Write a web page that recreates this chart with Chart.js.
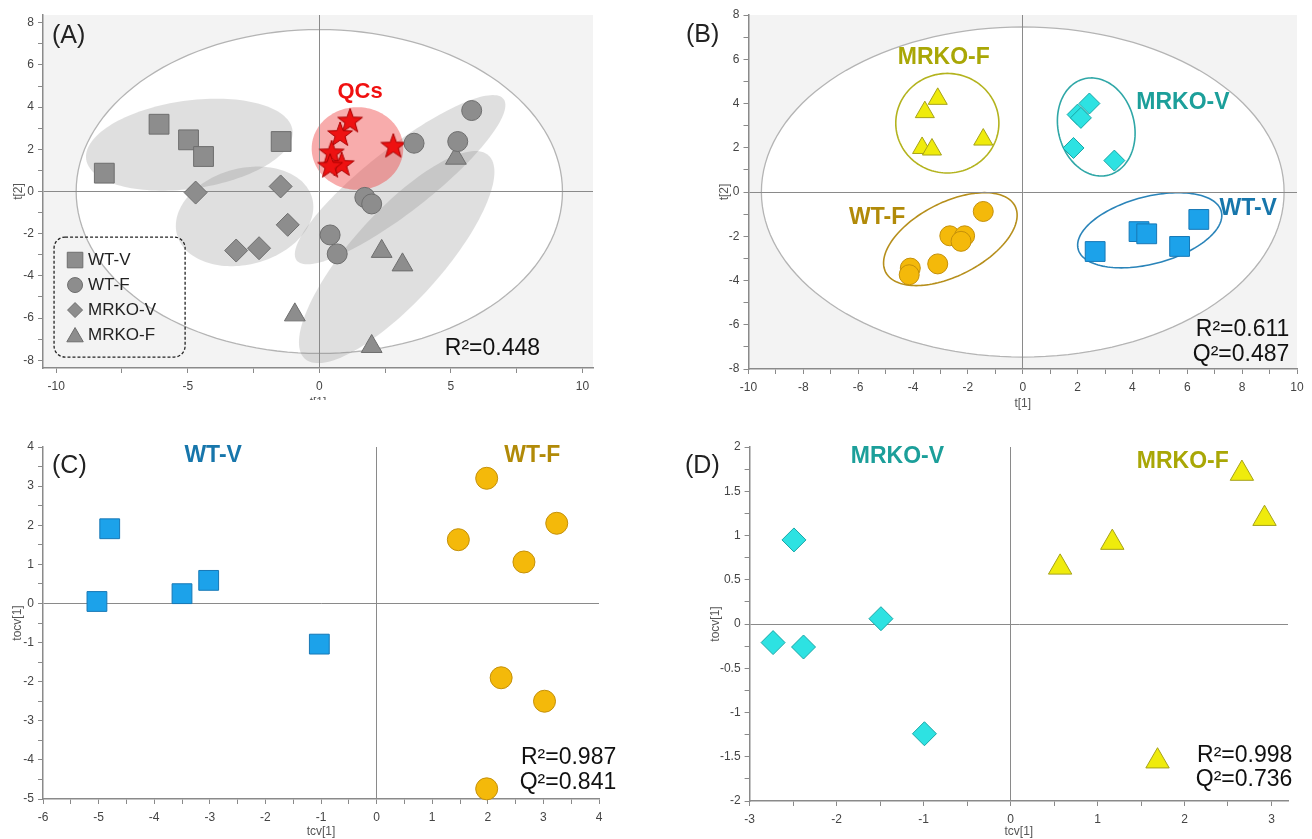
<!DOCTYPE html>
<html>
<head>
<meta charset="utf-8">
<script src="https://cdn.jsdelivr.net/npm/chart.js@4.4.1/dist/chart.umd.min.js"></script>
<style>
  body { margin: 0; background: #fff; width: 1312px; height: 839px; position: relative; overflow: hidden;
         font-family: "Liberation Sans", Arial, sans-serif; }
  .panel { position: absolute; overflow: hidden; }
  .panel canvas { position: absolute; left: 0; top: 0; }
  .tag { position: absolute; font-size: 25px; line-height: 25px; color: #222; }
</style>
</head>
<body>
<div class="panel" style="left:0;top:0;width:650px;height:400px"><canvas id="chartA" width="650" height="420"></canvas></div>
<div class="panel" style="left:650px;top:0;width:662px;height:420px"><canvas id="chartB" width="662" height="420"></canvas></div>
<div class="panel" style="left:0;top:430px;width:650px;height:409px"><canvas id="chartC" width="650" height="409"></canvas></div>
<div class="panel" style="left:650px;top:430px;width:662px;height:409px"><canvas id="chartD" width="662" height="409"></canvas></div>
<div class="tag" style="left:52px;top:22px">(A)</div>
<div class="tag" style="left:686px;top:21px">(B)</div>
<div class="tag" style="left:52px;top:452px">(C)</div>
<div class="tag" style="left:685px;top:452px">(D)</div>

<script>
/* ---- Panel A: PCA scores of all samples and QCs ---- */
const A_WTV_X = [-8.17, -6.09, -4.97, -4.40, -1.45];
const A_WTV_Y = [0.87, 3.19, 2.45, 1.66, 2.37];
const A_WTF_X = [5.79, 5.26, 3.60, 1.73, 1.99, 0.41, 0.68];
const A_WTF_Y = [3.84, 2.37, 2.29, -0.28, -0.59, -2.06, -2.96];
const A_MRKOV_X = [-4.70, -1.47, -1.20, -3.16, -2.29];
const A_MRKOV_Y = [-0.05, 0.24, -1.58, -2.80, -2.69];
const A_MRKOF_X = [5.19, 2.37, 3.16, -0.93, 1.99];
const A_MRKOF_Y = [1.58, -2.84, -3.48, -5.85, -7.35];
const A_QC_X = [1.17, 0.79, 2.81, 0.47, 0.85, 0.41];
const A_QC_Y = [3.37, 2.73, 2.18, 1.86, 1.31, 1.23];
const A_X_TICKS = [-10, -7.5, -5, -2.5, 0, 2.5, 5, 7.5, 10];
const A_X_LABELS = [-10, -5, 0, 5, 10];
const A_Y_TICKS = [-8, -7, -6, -5, -4, -3, -2, -1, 0, 1, 2, 3, 4, 5, 6, 7, 8];
const A_Y_LABELS = [-8, -6, -4, -2, 0, 2, 4, 6, 8];

/* ---- Panel B: PLS-DA scores ---- */
const B_WTV_X = [6.42, 4.24, 4.52, 5.72, 2.64];
const B_WTV_Y = [-1.24, -1.79, -1.89, -2.46, -2.69];
const B_WTF_X = [-1.44, -2.66, -2.12, -2.25, -3.10, -4.10, -4.14];
const B_WTF_Y = [-0.88, -1.98, -1.98, -2.23, -3.25, -3.44, -3.74];
const B_MRKOV_X = [2.43, 2.00, 2.12, 1.85, 3.34];
const B_MRKOV_Y = [4.00, 3.50, 3.35, 1.99, 1.42];
const B_MRKOF_X = [-3.10, -3.57, -3.67, -3.31, -1.44];
const B_MRKOF_Y = [4.21, 3.61, 1.99, 1.92, 2.37];
const B_X_TICKS = [-10, -9, -8, -7, -6, -5, -4, -3, -2, -1, 0, 1, 2, 3, 4, 5, 6, 7, 8, 9, 10];
const B_X_LABELS = [-10, -8, -6, -4, -2, 0, 2, 4, 6, 8, 10];
const B_Y_TICKS = [-8, -7, -6, -5, -4, -3, -2, -1, 0, 1, 2, 3, 4, 5, 6, 7, 8];
const B_Y_LABELS = [-8, -6, -4, -2, 0, 2, 4, 6, 8];

/* ---- Panel C: OPLS-DA WT-V vs WT-F ---- */
const C_WTV_X = [-4.80, -5.03, -3.50, -3.02, -1.03];
const C_WTV_Y = [1.91, 0.05, 0.25, 0.59, -1.04];
const C_WTF_X = [1.98, 3.24, 1.47, 2.65, 2.24, 3.02, 1.98];
const C_WTF_Y = [3.20, 2.05, 1.63, 1.06, -1.90, -2.50, -4.74];
const C_X_TICKS = [-6, -5.5, -5, -4.5, -4, -3.5, -3, -2.5, -2, -1.5, -1, -0.5, 0, 0.5, 1, 1.5, 2, 2.5, 3, 3.5, 4];
const C_X_LABELS = [-6, -5, -4, -3, -2, -1, 0, 1, 2, 3, 4];
const C_Y_TICKS = [-5, -4.5, -4, -3.5, -3, -2.5, -2, -1.5, -1, -0.5, 0, 0.5, 1, 1.5, 2, 2.5, 3, 3.5, 4];
const C_Y_LABELS = [-5, -4, -3, -2, -1, 0, 1, 2, 3, 4];

/* ---- Panel D: OPLS-DA MRKO-V vs MRKO-F ---- */
const D_MRKOV_X = [-2.49, -2.73, -2.38, -1.49, -0.99];
const D_MRKOV_Y = [0.95, -0.21, -0.26, 0.06, -1.24];
const D_MRKOF_X = [2.66, 2.92, 1.17, 0.57, 1.69];
const D_MRKOF_Y = [1.70, 1.19, 0.92, 0.64, -1.55];
const D_X_TICKS = [-3, -2.5, -2, -1.5, -1, -0.5, 0, 0.5, 1, 1.5, 2, 2.5, 3];
const D_X_LABELS = [-3, -2, -1, 0, 1, 2, 3];
const D_Y_TICKS = [-2, -1.75, -1.5, -1.25, -1, -0.75, -0.5, -0.25, 0, 0.25, 0.5, 0.75, 1, 1.25, 1.5, 1.75, 2];
const D_Y_LABELS = [-2, -1.5, -1, -0.5, 0, 0.5, 1, 1.5, 2];

/* Marker and label colours */
const COLORS = {
    wtv: "#1ca2ea", wtvEdge: "#1778b6", wtvText: "#1776ab",
    wtf: "#f4b90a", wtfEdge: "#c4900a", wtfText: "#b18a08",
    mrkov: "#2de2e2", mrkovEdge: "#19a6a6", mrkovText: "#1c9f9a",
    mrkof: "#efeb0c", mrkofEdge: "#a6a21a", mrkofText: "#a9a706",
    grey: "#8d8d8d", greyEdge: "#6e6e6e",
    axis: "#8a8a8a", tick: "#444",
};

Chart.defaults.font.family = '"Liberation Sans", Arial, sans-serif';
Chart.defaults.color = COLORS.tick;

/* Red QC star used as point style */
const starImg = (() => {
    const c = document.createElement("canvas");
    c.width = 28; c.height = 28;
    const g = c.getContext("2d");
    g.beginPath();
    for (let i = 0; i < 10; i++) {
        const r = i % 2 ? 5.3 : 13;
        const a = -Math.PI / 2 + i * Math.PI / 5;
        g.lineTo(14 + r * Math.cos(a), 15 + r * Math.sin(a));
    }
    g.closePath();
    g.fillStyle = "#ee1111";
    g.fill();
    g.strokeStyle = "#a80000";
    g.lineWidth = 1;
    g.stroke();
    return c;
})();

function series(xs, ys, style) {
    return Object.assign({
        data: xs.map((x, i) => ({ x, y: ys[i] })),
        borderWidth: 1,
        clip: false,
    }, style);
}

function axis(min, max, ticks, labels, title, size, titlePad) {
    return {
        min, max,
        afterBuildTicks: s => { s.ticks = ticks.map(v => ({ value: v })); },
        afterFit: s => { if (s.isHorizontal()) s.height = size; else s.width = size; },
        ticks: {
            autoSkip: false, maxRotation: 0,
            padding: ctx => (ctx.scale && ctx.scale.isHorizontal()) ? 6 : 4,
            font: { size: 12 }, color: COLORS.tick,
            callback: v => labels.includes(v) ? String(v) : "",
        },
        grid: {
            drawOnChartArea: true, tickLength: 5, tickColor: COLORS.axis,
            color: c => (c.tick && c.tick.value === 0) ? COLORS.axis : "rgba(0,0,0,0)",
        },
        border: { display: true, color: COLORS.axis, width: 1.5 },
        title: { display: true, text: title, color: "#555", font: { size: 12 }, padding: titlePad },
    };
}

function traceEllipse(chart, e) {
    const xs = chart.scales.x, ys = chart.scales.y, ctx = chart.ctx;
    ctx.beginPath();
    for (let i = 0; i <= 144; i++) {
        const t = i / 144 * Math.PI * 2;
        const vx = e.c[0] + e.u[0] * Math.cos(t) + e.v[0] * Math.sin(t);
        const vy = e.c[1] + e.u[1] * Math.cos(t) + e.v[1] * Math.sin(t);
        const px = xs.getPixelForValue(vx), py = ys.getPixelForValue(vy);
        if (i) ctx.lineTo(px, py); else ctx.moveTo(px, py);
    }
    ctx.closePath();
}

function drawMarker(ctx, shape, x, y, r) {
    ctx.beginPath();
    if (shape === "rect") {
        const s = r * Math.SQRT1_2;
        ctx.rect(x - s, y - s, 2 * s, 2 * s);
    } else if (shape === "circle") {
        ctx.arc(x, y, r, 0, Math.PI * 2);
    } else if (shape === "rectRot") {
        ctx.moveTo(x, y - r); ctx.lineTo(x + r, y); ctx.lineTo(x, y + r); ctx.lineTo(x - r, y);
        ctx.closePath();
    } else {
        ctx.moveTo(x, y - r); ctx.lineTo(x + r * 0.866, y + r * 0.5); ctx.lineTo(x - r * 0.866, y + r * 0.5);
        ctx.closePath();
    }
    ctx.fill();
    ctx.stroke();
}

/* Shaded plot area, confidence ellipses, in-plot labels and legend */
function decor(cfg) {
    return {
        id: "decor",
        beforeDraw(chart) {
            const { ctx, chartArea: a } = chart;
            ctx.save();
            if (cfg.shaded) {
                ctx.fillStyle = "#f3f3f3";
                ctx.fillRect(a.left, a.top, a.right - a.left, a.bottom - a.top);
            }
            ctx.beginPath();
            ctx.rect(a.left, a.top, a.right - a.left, a.bottom - a.top);
            ctx.clip();
            (cfg.ellipses || []).forEach(e => {
                traceEllipse(chart, e);
                if (e.fill) { ctx.fillStyle = e.fill; ctx.fill(); }
                if (e.stroke) { ctx.strokeStyle = e.stroke; ctx.lineWidth = e.lw || 1.6; ctx.stroke(); }
            });
            ctx.restore();
        },
        afterDatasetsDraw(chart) {
            const { ctx } = chart;
            const xs = chart.scales.x, ys = chart.scales.y;
            ctx.save();
            ctx.textBaseline = "middle";
            (cfg.texts || []).forEach(t => {
                ctx.font = t.font;
                ctx.fillStyle = t.color;
                ctx.textAlign = t.align || "center";
                ctx.fillText(t.text, xs.getPixelForValue(t.x), ys.getPixelForValue(t.y));
            });
            if (cfg.legend) {
                const L = cfg.legend;
                const x0 = xs.getPixelForValue(L.box[0]), y0 = ys.getPixelForValue(L.box[1]);
                const x1 = xs.getPixelForValue(L.box[2]), y1 = ys.getPixelForValue(L.box[3]);
                ctx.beginPath();
                ctx.roundRect(x0, y0, x1 - x0, y1 - y0, 11);
                ctx.setLineDash([3, 2]);
                ctx.strokeStyle = "#222";
                ctx.lineWidth = 1.3;
                ctx.stroke();
                ctx.setLineDash([]);
                L.items.forEach((it, i) => {
                    const y = y0 + 23 + i * 25;
                    ctx.fillStyle = COLORS.grey;
                    ctx.strokeStyle = COLORS.greyEdge;
                    ctx.lineWidth = 1;
                    drawMarker(ctx, it.shape, x0 + 21, y + (it.shape === "triangle" ? 2 : 0), it.r);
                    ctx.fillStyle = "#222";
                    ctx.font = '17px "Liberation Sans", Arial, sans-serif';
                    ctx.textAlign = "left";
                    ctx.fillText(it.label, x0 + 34, y);
                });
            }
            ctx.restore();
        },
    };
}

function makePanel(id, cfg) {
    return new Chart(document.getElementById(id), {
        type: "scatter",
        data: { datasets: cfg.datasets },
        options: {
            responsive: false,
            animation: false,
            events: [],
            layout: { padding: cfg.padding },
            plugins: { legend: { display: false }, tooltip: { enabled: false } },
            scales: { x: cfg.x, y: cfg.y },
        },
        plugins: [decor(cfg)],
    });
}

const BOLD = '700 23px "Liberation Sans", Arial, sans-serif';
const STAT = '23px "Liberation Sans", Arial, sans-serif';
const GREY_FILL = "rgba(128,128,128,0.25)";

document.addEventListener("DOMContentLoaded", () => {
    const grey = { backgroundColor: COLORS.grey, borderColor: COLORS.greyEdge };

    makePanel("chartA", {
        padding: { left: 0, right: 57, top: 14, bottom: 0 },
        x: axis(-10.5, 10.4, A_X_TICKS, A_X_LABELS, "t[1]", 52, { top: 4, bottom: 10 }),
        y: axis(-8.37, 8.37, A_Y_TICKS, A_Y_LABELS, "t[2]", 43, { top: 11, bottom: 0 }),
        shaded: true,
        ellipses: [
            { c: [0, 0], u: [9.24, 0], v: [0, 7.68], fill: "#fff", stroke: "#b4b4b4", lw: 1.3 },
            { c: [-4.94, 2.22], u: [3.92, 0.69], v: [0.23, -2.07], fill: GREY_FILL },
            { c: [-2.84, -1.18], u: [2.57, 0.86], v: [0.47, -2.2], fill: GREY_FILL },
            { c: [3.07, 0.56], u: [3.93, 3.83], v: [0.75, -1.2], fill: GREY_FILL },
            { c: [2.94, -3.11], u: [3.49, 4.82], v: [1.27, -1.43], fill: GREY_FILL },
            { c: [1.45, 2.04], u: [1.74, 0], v: [0, 1.96], fill: "rgba(240,70,70,0.45)" },
        ],
        datasets: [
            series(A_WTV_X, A_WTV_Y, { pointStyle: "rect", pointRadius: 14, ...grey }),
            series(A_WTF_X, A_WTF_Y, { pointStyle: "circle", pointRadius: 10, ...grey }),
            series(A_MRKOV_X, A_MRKOV_Y, { pointStyle: "rectRot", pointRadius: 11.5, ...grey }),
            series(A_MRKOF_X, A_MRKOF_Y, { pointStyle: "triangle", pointRadius: 12, ...grey }),
            series(A_QC_X, A_QC_Y, { pointStyle: starImg, pointRadius: 13 }),
        ],
        texts: [
            { text: "QCs", x: 1.55, y: 4.71, color: "#f01010", font: '700 22px "Liberation Sans", Arial, sans-serif' },
            { text: "R\u00b2=0.448", x: 8.39, y: -7.44, color: "#111", font: STAT, align: "right" },
        ],
        legend: {
            box: [-10.08, -2.16, -5.1, -7.85],
            items: [
                { label: "WT-V", shape: "rect", r: 11 },
                { label: "WT-F", shape: "circle", r: 7.5 },
                { label: "MRKO-V", shape: "rectRot", r: 7.5 },
                { label: "MRKO-F", shape: "triangle", r: 9.5 },
            ],
        },
    });

    makePanel("chartB", {
        padding: { left: 55, right: 7, top: 15, bottom: 0 },
        x: axis(-10, 10, B_X_TICKS, B_X_LABELS, "t[1]", 51, { top: 4, bottom: 9 }),
        y: axis(-8, 8, B_Y_TICKS, B_Y_LABELS, "t[2]", 43.5, { top: 12, bottom: 0 }),
        shaded: true,
        ellipses: [
            { c: [0, 0], u: [9.53, 0], v: [0, 7.46], fill: "#fff", stroke: "#b4b4b4", lw: 1.3 },
            { c: [-2.75, 3.11], u: [1.88, 0], v: [0, 2.25], stroke: "#b3b31e" },
            { c: [2.68, 2.94], u: [-0.46, 2.17], v: [1.34, 0.45], stroke: "#2fa7a7" },
            { c: [-2.64, -2.13], u: [2.36, 1.49], v: [0.6, -1.48], stroke: "#b68f1c" },
            { c: [4.63, -1.73], u: [2.61, 0.85], v: [0.31, -1.47], stroke: "#2a84b9" },
        ],
        datasets: [
            series(B_MRKOF_X, B_MRKOF_Y, { pointStyle: "triangle", pointRadius: 11, backgroundColor: COLORS.mrkof, borderColor: COLORS.mrkofEdge }),
            series(B_MRKOV_X, B_MRKOV_Y, { pointStyle: "rectRot", pointRadius: 10.5, backgroundColor: COLORS.mrkov, borderColor: COLORS.mrkovEdge }),
            series(B_WTF_X, B_WTF_Y, { pointStyle: "circle", pointRadius: 10, backgroundColor: COLORS.wtf, borderColor: COLORS.wtfEdge }),
            series(B_WTV_X, B_WTV_Y, { pointStyle: "rect", pointRadius: 14, backgroundColor: COLORS.wtv, borderColor: COLORS.wtvEdge }),
        ],
        texts: [
            { text: "MRKO-F", x: -2.88, y: 6.07, color: COLORS.mrkofText, font: BOLD },
            { text: "MRKO-V", x: 5.84, y: 4.03, color: COLORS.mrkovText, font: BOLD },
            { text: "WT-F", x: -5.31, y: -1.18, color: COLORS.wtfText, font: BOLD },
            { text: "WT-V", x: 8.22, y: -0.77, color: COLORS.wtvText, font: BOLD },
            { text: "R\u00b2=0.611", x: 9.72, y: -6.22, color: "#111", font: STAT, align: "right" },
            { text: "Q\u00b2=0.487", x: 9.72, y: -7.34, color: "#111", font: STAT, align: "right" },
        ],
    });

    makePanel("chartC", {
        padding: { left: 0, right: 51, top: 17, bottom: 0 },
        x: axis(-6, 4, C_X_TICKS, C_X_LABELS, "tcv[1]", 40, { top: 2, bottom: 0 }),
        y: axis(-5, 4, C_Y_TICKS, C_Y_LABELS, "tocv[1]", 43, { top: 10, bottom: 0 }),
        datasets: [
            series(C_WTV_X, C_WTV_Y, { pointStyle: "rect", pointRadius: 14, backgroundColor: COLORS.wtv, borderColor: COLORS.wtvEdge }),
            series(C_WTF_X, C_WTF_Y, { pointStyle: "circle", pointRadius: 11, backgroundColor: COLORS.wtf, borderColor: COLORS.wtfEdge }),
        ],
        texts: [
            { text: "WT-V", x: -2.94, y: 3.77, color: COLORS.wtvText, font: BOLD },
            { text: "WT-F", x: 2.8, y: 3.77, color: COLORS.wtfText, font: BOLD },
            { text: "R\u00b2=0.987", x: 4.31, y: -3.95, color: "#111", font: STAT, align: "right" },
            { text: "Q\u00b2=0.841", x: 4.31, y: -4.59, color: "#111", font: STAT, align: "right" },
        ],
    });

    makePanel("chartD", {
        padding: { left: 50, right: 24, top: 17, bottom: 0 },
        x: axis(-3, 3.19, D_X_TICKS, D_X_LABELS, "tcv[1]", 38, { top: 2, bottom: 0 }),
        y: axis(-2, 2, D_Y_TICKS, D_Y_LABELS, "tocv[1]", 49.6, { top: 8, bottom: 0 }),
        datasets: [
            series(D_MRKOV_X, D_MRKOV_Y, { pointStyle: "rectRot", pointRadius: 12, backgroundColor: COLORS.mrkov, borderColor: COLORS.mrkovEdge }),
            series(D_MRKOF_X, D_MRKOF_Y, { pointStyle: "triangle", pointRadius: 13.5, backgroundColor: COLORS.mrkof, borderColor: COLORS.mrkofEdge }),
        ],
        texts: [
            { text: "MRKO-V", x: -1.3, y: 1.89, color: COLORS.mrkovText, font: BOLD },
            { text: "MRKO-F", x: 1.98, y: 1.83, color: COLORS.mrkofText, font: BOLD },
            { text: "R\u00b2=0.998", x: 3.24, y: -1.49, color: "#111", font: STAT, align: "right" },
            { text: "Q\u00b2=0.736", x: 3.24, y: -1.76, color: "#111", font: STAT, align: "right" },
        ],
    });
});
</script>
</body>
</html>
